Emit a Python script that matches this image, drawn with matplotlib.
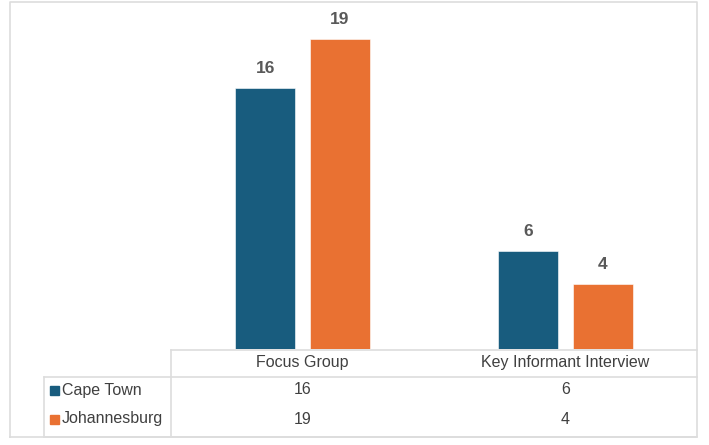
import matplotlib
matplotlib.use('Agg')
import matplotlib.pyplot as plt
import numpy as np
from matplotlib import font_manager

# pick a narrow font if there is one
names = {f.name for f in font_manager.fontManager.ttflist}
narrow = 'Liberation Sans Narrow' if 'Liberation Sans Narrow' in names else 'Liberation Sans'
plt.rcParams['font.family'] = [narrow, 'DejaVu Sans']

categories = ['Focus Group', 'Key Informant Interview']
series_names = ['Cape Town', 'Johannesburg']
cape_town = [16, 6]
johannesburg = [19, 4]
colors = ['#185C7E', '#E97132']

W, H = 709, 445
fig = plt.figure(figsize=(W / 100, H / 100), dpi=100)

# pixel helper for axes placement
def px_axes(x0, y0, x1, y1):
    return [x0 / W, 1 - y1 / H, (x1 - x0) / W, (y1 - y0) / H]

ax = fig.add_axes(px_axes(171, 10, 697, 349))
x = np.arange(len(categories))
bw = 0.228
off = 0.141
for i, (vals, c) in enumerate(zip([cape_town, johannesburg], colors)):
    pos = x + (off if i else -off)
    bars = ax.bar(pos, vals, bw, color=c, edgecolor='white', linewidth=0.4)
    for b, v in zip(bars, vals):
        ax.text(b.get_x() + b.get_width() / 2, v + 1.2, str(v), ha='center', va='center',
                fontsize=12.5, fontweight='bold', color='#595959')
ax.set_xlim(-0.5, len(categories) - 0.5)
ax.set_ylim(0, 20.8)
ax.axis('off')

# overlay in pixel coords for the data table and frame
ov = fig.add_axes([0, 0, 1, 1], zorder=-1)
ov.set_xlim(0, W)
ov.set_ylim(H, 0)
ov.axis('off')
lc = '#DDDDDD'
# outer frame
ov.plot([10, 10, 697, 697, 10], [437, 2, 2, 437, 437], color=lc, lw=1.2)
# table lines
ov.plot([171, 697], [350, 350], color=lc, lw=1.2)
ov.plot([44, 697], [377, 377], color=lc, lw=1.2)
ov.plot([44, 697], [437, 437], color=lc, lw=1.2)
ov.plot([171, 171], [350, 437], color=lc, lw=1.2)
ov.plot([44, 44], [377, 437], color=lc, lw=1.2)

col_w = (697 - 171) / len(categories)
tc = '#404040'
for j, cat in enumerate(categories):
    ov.text(171 + col_w * (j + 0.5), 363, cat, ha='center', va='center', fontsize=11.5, color=tc)
row_y = [390, 419]
for r, (name, vals, c) in enumerate(zip(series_names, [cape_town, johannesburg], colors)):
    ov.add_patch(plt.Rectangle((50, row_y[r] - 4), 9, 9, color=c))
    ov.text(62, row_y[r], name, ha='left', va='center', fontsize=11.5, color=tc)
    for j, v in enumerate(vals):
        ov.text(171 + col_w * (j + 0.5), row_y[r], str(v), ha='center', va='center', fontsize=11.5, color=tc)

fig.savefig('out.png', dpi=100)
